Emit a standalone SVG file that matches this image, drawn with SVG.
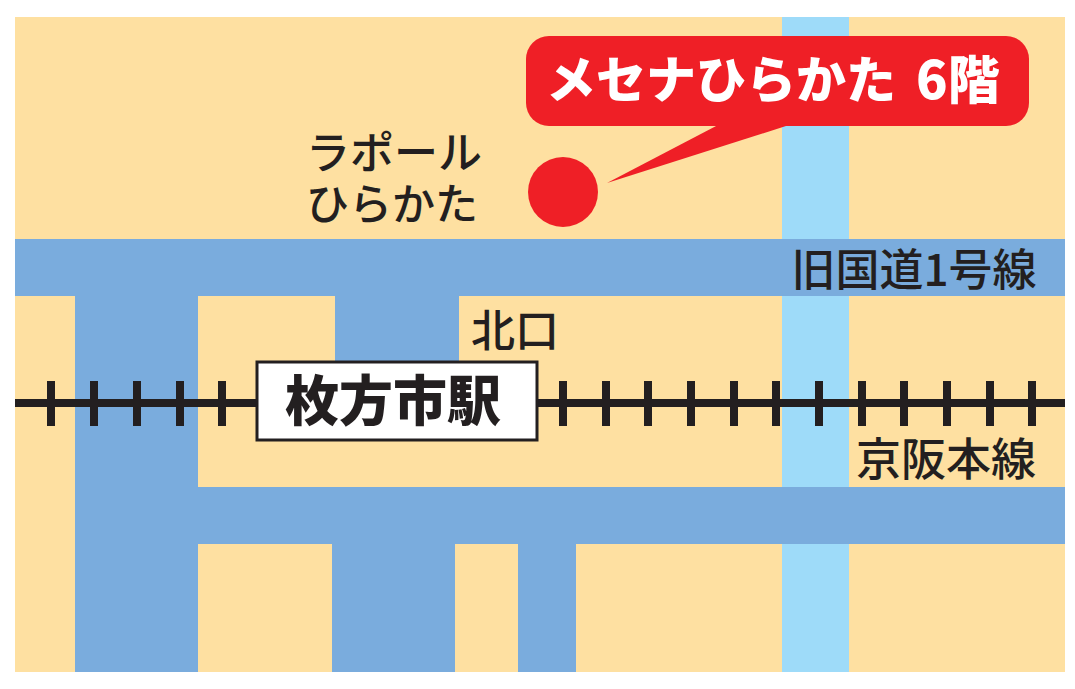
<svg xmlns="http://www.w3.org/2000/svg" width="1075" height="689" viewBox="0 0 1075 689">
<style>
.j{font-family:"Noto Sans CJK JP","Noto Sans",sans-serif}
.k{font-family:"Liberation Sans","Noto Sans CJK JP",sans-serif}
.t{font-size:44px;fill:#231f20;font-weight:500}
.road{fill:#7aacdd}
.tie{stroke:#231f20;stroke-width:8;fill:none}
</style>
<rect width="1075" height="689" fill="#fff"/>
<g id="map">
<rect x="15" y="17" width="1050" height="655" fill="#fee0a1"/>
<rect x="782" y="17" width="67" height="655" fill="#9edbf9"/>
<rect class="road" x="15" y="239" width="1050" height="57"/>
<rect class="road" x="75" y="296" width="123" height="376"/>
<rect class="road" x="335" y="296" width="124" height="80"/>
<rect class="road" x="198" y="487" width="867" height="57"/>
<rect class="road" x="332" y="544" width="123" height="128"/>
<rect class="road" x="518" y="544" width="58" height="128"/>
</g>
<g id="railway">
<path class="tie" d="M15 403H1065"/>
<path class="tie" d="M51 381v45M94 381v45M137 381v45M180 381v45M222 381v45M563 381v45M606 381v45M648 381v45M691 381v45M734 381v45M776 381v45M819 381v45M862 381v45M904 381v45M947 381v45M990 381v45M1032 381v45"/>
</g>
<g id="station">
<rect x="257" y="362" width="280" height="78" fill="#fff" stroke="#231f20" stroke-width="3"/>
<text class="j" x="393" y="421" font-size="54" font-weight="900" fill="#231f20" text-anchor="middle">枚方市駅</text>
</g>
<g id="callout">
<circle cx="563" cy="192" r="35" fill="#ef1f26"/>
<path d="M607 183L718 125H786V126Z" fill="#ef1f26"/>
<rect x="526" y="36" width="503" height="90" rx="23" fill="#ef1f26"/>
<text class="j" x="546" y="98" font-size="50" font-weight="900" fill="#fff">メセナひらかた<tspan x="916" y="99" font-size="52">6階</tspan></text>
</g>
<g id="labels">
<text class="k t"><tspan x="306" y="169">ラポール</tspan><tspan x="306" y="220" style="font-size:43px">ひらかた</tspan></text>
<text class="j t" x="914" y="286" text-anchor="middle">旧国道1号線</text>
<text class="j t" x="515" y="347" text-anchor="middle">北口</text>
<text class="j t" x="946" y="476" style="font-size:45px" text-anchor="middle">京阪本線</text>
</g>
</svg>
